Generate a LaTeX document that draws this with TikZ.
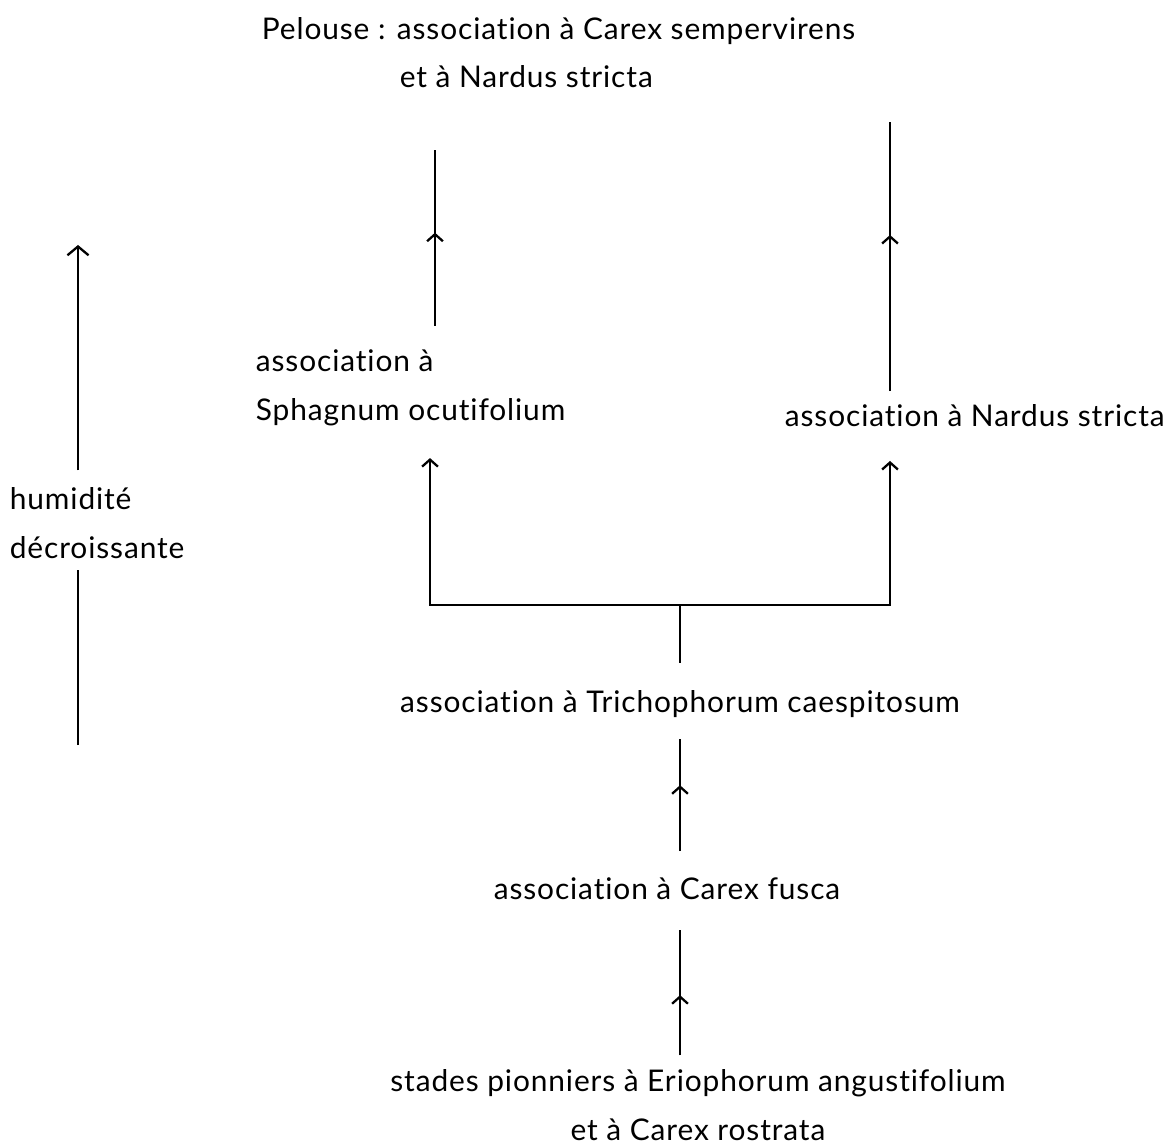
\documentclass[tikz,border=0pt]{standalone}
\usepackage{fontspec}
\setmainfont{Lato}[Ligatures=NoCommon, LetterSpace=3]
\usetikzlibrary{positioning,calc,decorations.markings,arrows.meta}

\tikzset{
    lbl/.style={font=\fontsize{17}{28}\selectfont, inner sep=2pt},
    mid/.style={line width=1.3pt, postaction={decorate},
        decoration={markings, mark=at position #1 with {\arrow{Straight Barb[length=4pt,width=9pt]}}}},
    mid/.default=0.55,
    tip/.style={line width=1.3pt, {Straight Barb[length=4pt,width=9pt]}-{Straight Barb[length=4pt,width=9pt]}},
}

\begin{document}
\begin{tikzpicture}[x=0.02cm, y=-0.02cm]
    \useasboundingbox (0,0) rectangle (1176,1148);

    % texts
    \node[lbl, anchor=west] (pel) at (258,31) {Pelouse : association à Carex sempervirens};
    \node[lbl, anchor=west] (pelb) at (396,77) {et à Nardus stricta};
    \node[lbl, anchor=west, align=left] (sph) at (252,388) {association à\\Sphagnum ocutifolium};
    \node[lbl, anchor=west] (nar) at (781,416) {association à Nardus stricta};
    \node[lbl, anchor=west, align=left] (hum) at (6,523) {humidité\\décroissante};
    \node[lbl] (tri) at (680,704) {association à Trichophorum caespitosum};
    \node[lbl] (fus) at (667,889) {association à Carex fusca};
    \node[lbl, align=center] (sta) at (698,1105) {stades pionniers à Eriophorum angustifolium\\et à Carex rostrata};

    % free ends
    \coordinate (sphup) at (435,150);
    \coordinate (narup) at (890,122);
    \coordinate (fl) at (430,605);
    \coordinate (fr) at (890,605);
    \coordinate (humtop) at (78,245);
    \coordinate (humbot) at (78,745);

    % connectors
    \draw[mid=0.53] ($(sph.north -| sphup)+(0,0.4cm)$) -- (sphup);
    \draw[mid=0.58] ($(nar.north -| narup)+(0,0.2cm)$) -- (narup);
    \draw[line width=1.3pt] ($(tri.north)+(0,0.48cm)$) -- (tri.north |- fl);
    \draw[tip] ($(sph.south -| fl)+(0,-0.56cm)$) |- (fr)
        -- ($(nar.south -| fr)+(0,-0.6cm)$);
    \draw[mid=0.59] ($(fus.north -| tri.south)+(0,0.46cm)$) -- ($(tri.south)+(0,-0.36cm)$);
    \draw[mid=0.48] ($(sta.north -| tri.south)+(0,0.2cm)$) -- ($(fus.south -| tri.south)+(0,-0.52cm)$);

    % humidity axis
    \draw[line width=1.3pt, -{Straight Barb[length=5pt,width=12pt]}] ($(hum.north -| humtop)+(0,0.26cm)$) -- (humtop);
    \draw[line width=1.3pt] (humbot) -- ($(hum.south -| humbot)+(0,-0.14cm)$);
\end{tikzpicture}
\end{document}
